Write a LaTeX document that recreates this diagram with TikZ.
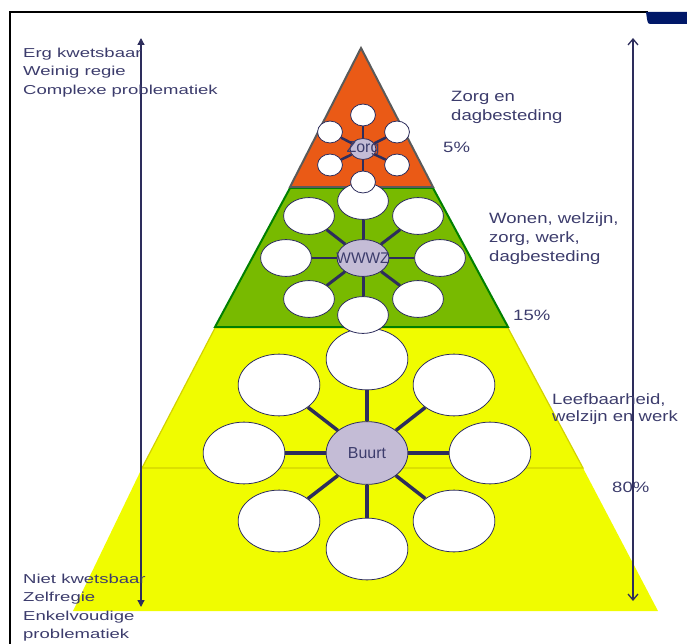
\documentclass[tikz,border=0pt]{standalone}
\usepackage{fontspec}
\setmainfont{Liberation Sans}
\newfontfamily\leftfont[FakeStretch=1.43]{Liberation Sans}
\newfontfamily\rightfont[FakeStretch=1.24]{Liberation Sans}
\usetikzlibrary{shapes.geometric, arrows.meta}

\definecolor{navytext}{RGB}{60,60,108}
\definecolor{navyline}{RGB}{45,45,92}
\definecolor{zorgorange}{RGB}{234,90,22}
\definecolor{orangeedge}{RGB}{90,90,90}
\definecolor{wwwzgreen}{RGB}{120,186,0}
\definecolor{greenedge}{RGB}{0,128,0}
\definecolor{buurtyellow}{RGB}{240,252,0}
\definecolor{yellowedge}{RGB}{210,210,0}
\definecolor{hublilac}{RGB}{196,188,214}
\definecolor{logoblue}{RGB}{0,24,104}

\tikzset{
  sat/.style={ellipse, draw=navyline, fill=white, line width=0.8pt, inner sep=0pt},
  hub/.style={ellipse, draw=navyline, fill=hublilac, line width=0.8pt, inner sep=0pt},
  spoke/.style={draw=navyline, line width=#1},
  spoke/.default=3pt,
  lefttext/.style={anchor=north west, align=left, inner sep=0pt, text=navytext, font=\leftfont\fontsize{13}{18.7}\selectfont},
  righttext/.style={anchor=north west, align=left, inner sep=0pt, text=navytext, font=\rightfont\fontsize{15}{19.5}\selectfont},
  hubtext/.style={text=navytext, font=\fontsize{16}{19}\selectfont}
}

\begin{document}
\begin{tikzpicture}[x=1bp, y=-1bp]
    \useasboundingbox (0,0) rectangle (687,644);

    % frame
    \draw[line width=1.8pt] (10,644) -- (10,12) -- (648,12);
    \fill[logoblue] (646,12) -- (690,12) -- (690,24) -- (653,24) .. controls (648,24) .. (647,19) -- cycle;

    % pyramid bands
    \fill[buurtyellow] (142,468) -- (583,468) -- (658,611) -- (73,611) -- cycle;
    \draw[yellowedge, fill=buurtyellow, line width=1.2pt] (215,328) -- (508,328) -- (583,468) -- (142,468) -- cycle;
    \draw[greenedge, fill=wwwzgreen, line width=2pt] (215,327) -- (508,327) -- (433,188) -- (290,188) -- cycle;
    \draw[orangeedge, fill=zorgorange, line width=2pt] (361,48) -- (433,187) -- (290,187) -- cycle;

    % Buurt
    \node[hub, minimum width=82, minimum height=63, label={[hubtext]center:Buurt}] (buurt) at (367,453) {};
    \foreach \name/\px/\py in {t/367/359, ur/454/385, r/490/453, lr/454/521, b/367/549, ll/279/521, l/244/453, ul/279/385}
        \node[sat, minimum width=82, minimum height=62] (buurt-\name) at (\px,\py) {};
    \foreach \name in {t, ur, r, lr, b, ll, l, ul}
        \draw[spoke=3.5pt] (buurt) -- (buurt-\name);

    % WWWZ
    \node[hub, minimum width=52, minimum height=37, label={[hubtext, font=\fontsize{15.5}{18}\selectfont]center:WWWZ}] (wwwz) at (363,258) {};
    \foreach \name/\px/\py in {t/363/201, ur/418/216, r/440/258, lr/418/299, b/363/315, ll/309/299, l/286/258, ul/309/216}
        \node[sat, minimum width=51, minimum height=37] (wwwz-\name) at (\px,\py) {};
    \foreach \name in {t, ur, r, lr, b, ll, l, ul}
        \draw[spoke=3pt] (wwwz) -- (wwwz-\name);

    % Zorg
    \node[hub, minimum width=26, minimum height=21, label={[hubtext]center:Zorg}] (zorg) at (363,149) {};
    \foreach \name/\px/\py in {t/363/115, ur/397/132, lr/397/165, b/363/182, ll/330/165, ul/330/132}
        \node[sat, minimum width=25, minimum height=22] (zorg-\name) at (\px,\py) {};
    \foreach \name in {t, ur, lr, b, ll, ul}
        \draw[spoke=2.5pt] (zorg) -- (zorg-\name);

    % side arrows
    \coordinate (lefttop) at (141,38);
    \coordinate (leftbot) at (141,607);
    \coordinate (righttop) at (633,38);
    \coordinate (rightbot) at (633,601);
    \draw[navyline, line width=1.3pt, {Triangle[width=7pt,length=7pt]}-{Triangle[width=7pt,length=7pt]}] (lefttop) -- (leftbot);
    \draw[navyline, line width=1.3pt, {Straight Barb[width=10pt,length=6pt]}-{Straight Barb[width=10pt,length=6pt]}] (righttop) -- (rightbot);

    % texts
    \node[lefttext] (vulnerable) at (23,47.5) {Erg kwetsbaar\\Weinig regie\\Complexe problematiek};
    \node[lefttext] (selfreliant) at (23,573.5) {Niet kwetsbaar\\Zelfregie\\Enkelvoudige\\problematiek};
    \node[righttext] (zorgtext) at (451,91) {Zorg en\\dagbesteding};
    \node[righttext, anchor=base west] (zorgpct) at (443,153) {5\%};
    \node[righttext] (wwwztext) at (489,212) {Wonen, welzijn,\\zorg, werk,\\dagbesteding};
    \node[righttext, anchor=base west] (wwwzpct) at (513,320) {15\%};
    \node[righttext, font=\rightfont\fontsize{15}{18}\selectfont] (buurttext) at (552,393) {Leefbaarheid,\\welzijn en werk};
    \node[righttext, anchor=base west] (buurtpct) at (612,492) {80\%};
\end{tikzpicture}
\end{document}
